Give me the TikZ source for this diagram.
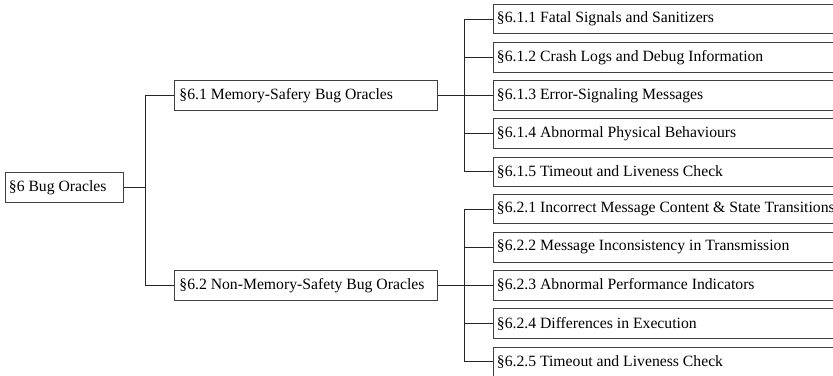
\documentclass[tikz,border=0pt]{standalone}
\usepackage{fontspec}
\setmainfont{Liberation Serif}
\begin{document}
\begin{tikzpicture}[x=1pt,y=-1pt,
  box/.style={draw=black!75, line width=0.8pt, anchor=west, inner xsep=3.5pt, inner ysep=0pt,
    minimum height=29.5pt, font=\fontsize{15.7}{18}\selectfont},
  conn/.style={draw=black!85, line width=0.9pt}]
\newcommand{\lft}[2]{\makebox[#1][l]{#2}}
\useasboundingbox (0,0) rectangle (833,375);
\clip (0,0) rectangle (833,375);
\node[box] (root) at (5,187.5) {\lft{111pt}{\S6 Bug Oracles}};
\node[box, inner xsep=5pt] (n61) at (174,95.4) {\lft{253pt}{\S6.1 Memory-Safery Bug Oracles}};
\node[box, inner xsep=5pt] (n62) at (174,285.3) {\lft{253pt}{\S6.2 Non-Memory-Safety Bug Oracles}};
\node[box] (a1) at (493,19) {\lft{393pt}{\S6.1.1 Fatal Signals and Sanitizers}};
\node[box] (a2) at (493,57.2) {\lft{393pt}{\S6.1.2 Crash Logs and Debug Information}};
\node[box] (a3) at (493,95.4) {\lft{393pt}{\S6.1.3 Error-Signaling Messages}};
\node[box] (a4) at (493,133.6) {\lft{393pt}{\S6.1.4 Abnormal Physical Behaviours}};
\node[box] (a5) at (493,171.8) {\lft{393pt}{\S6.1.5 Timeout and Liveness Check}};
\node[box] (b1) at (493,209) {\lft{393pt}{\S6.2.1 Incorrect Message Content \& State Transitions}};
\node[box] (b2) at (493,247.2) {\lft{393pt}{\S6.2.2 Message Inconsistency in Transmission}};
\node[box] (b3) at (493,285.4) {\lft{393pt}{\S6.2.3 Abnormal Performance Indicators}};
\node[box] (b4) at (493,323.6) {\lft{393pt}{\S6.2.4 Differences in Execution}};
\node[box] (b5) at (493,361.8) {\lft{393pt}{\S6.2.5 Timeout and Liveness Check}};
\coordinate (rj) at ([xshift=22pt]root.east);
\draw[conn] (root.east) -- (rj);
\draw[conn] (n61.west) -| (rj) |- (n62.west);
\coordinate (j1) at ([xshift=27pt]n61.east);
\coordinate (j2) at ([xshift=27pt]n62.east);
\draw[conn] (n61.east) -- (j1);
\draw[conn] (n62.east) -- (j2);
\draw[conn] (a1.west) -| (j1) |- (a5.west);
\foreach \n in {a2,a3,a4} \draw[conn] (j1) |- (\n.west);
\draw[conn] (b1.west) -| (j2) |- (b5.west);
\foreach \n in {b2,b3,b4} \draw[conn] (j2) |- (\n.west);
\end{tikzpicture}
\end{document}
